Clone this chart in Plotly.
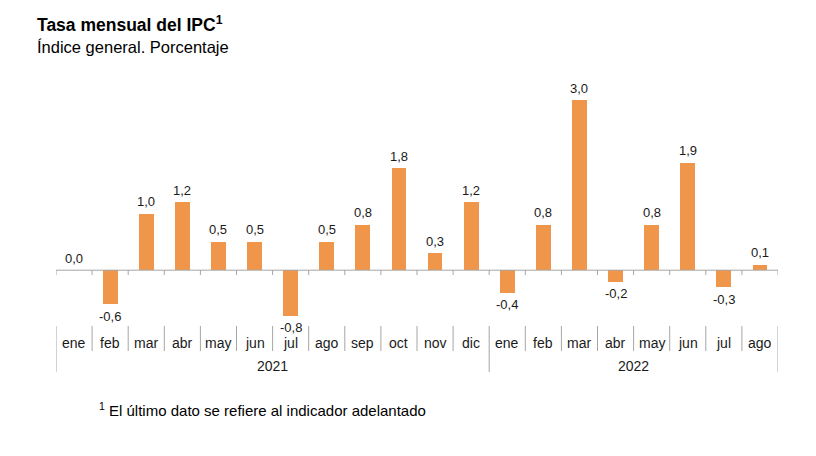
import plotly.graph_objects as go

months = ["ene", "feb", "mar", "abr", "may", "jun", "jul", "ago", "sep", "oct", "nov", "dic",
          "ene", "feb", "mar", "abr", "may", "jun", "jul", "ago"]
years = ["2021", "2022"]
year_counts = [12, 8]
values = [0.0, -0.6, 1.0, 1.2, 0.5, 0.5, -0.8, 0.5, 0.8, 1.8, 0.3, 1.2,
          -0.4, 0.8, 3.0, -0.2, 0.8, 1.9, -0.3, 0.1]

BAR = "#F0964B"
GRID = "#A6A6A6"
TXT = "#1a1a1a"
FONT = "Liberation Sans, Arial, sans-serif"

OFF = 8  # page offset of the figure inside the browser window
W, H = 816, 456
L, R = 56 - OFF, W - (778 - OFF)
T = 89 - OFF
B_PX = 324 - OFF
B = H - B_PX
PH = B_PX - T
PW = W - L - R


def py(p):  # window pixel y -> paper
    return (B_PX - (p - OFF)) / PH


def pxx(p):  # window pixel x -> paper
    return ((p - OFF) - L) / PW


n = len(values)
x = list(range(n))
labels = [f"{v:.1f}".replace(".", ",") for v in values]

fig = go.Figure()
fig.add_trace(go.Bar(
    x=x, y=values, width=0.41, marker=dict(color=BAR, line=dict(width=0)),
    hoverinfo="skip",
))

annotations = []
for i, v in enumerate(values):
    annotations.append(dict(
        x=i, y=v, xref="x", yref="y", text=labels[i], showarrow=False,
        yshift=12 if v >= 0 else -12, xanchor="center", yanchor="middle",
        font=dict(family=FONT, size=13, color=TXT), borderpad=0,
    ))

shapes = []
shapes.append(dict(type="line", xref="x", yref="y", x0=-0.5, x1=n - 0.5, y0=0, y1=0,
                   line=dict(color=GRID, width=1)))
for b in range(n + 1):
    shapes.append(dict(type="line", xref="x", yref="paper", x0=b - 0.5, x1=b - 0.5,
                       y0=py(270), y1=py(275), line=dict(color=GRID, width=1)))

year_bounds = [0]
for c in year_counts:
    year_bounds.append(year_bounds[-1] + c)
for b in range(n + 1):
    long = b in year_bounds
    shapes.append(dict(type="line", xref="x", yref="paper", x0=b - 0.5, x1=b - 0.5,
                       y0=py(326), y1=py(372 if long else 351),
                       line=dict(color=GRID, width=1)))

for i, m in enumerate(months):
    annotations.append(dict(x=i, y=py(343), xref="x", yref="paper", text=m,
                            showarrow=False, xanchor="center", yanchor="middle",
                            font=dict(family=FONT, size=14, color=TXT), borderpad=0))
for k, yv in enumerate(years):
    center = (year_bounds[k] + year_bounds[k + 1] - 1) / 2
    annotations.append(dict(x=center, y=py(366), xref="x", yref="paper", text=yv,
                            showarrow=False, xanchor="center", yanchor="middle",
                            font=dict(family=FONT, size=14, color=TXT)))

annotations.append(dict(x=pxx(35), y=py(24), xref="paper", yref="paper",
                        text="<b>Tasa mensual del IPC<sup>1</sup></b>", showarrow=False,
                        xanchor="left", yanchor="middle",
                        font=dict(family=FONT, size=17.5, color="#000000")))
annotations.append(dict(x=pxx(35), y=py(47), xref="paper", yref="paper",
                        text="Índice general. Porcentaje", showarrow=False,
                        xanchor="left", yanchor="middle",
                        font=dict(family=FONT, size=16.5, color="#000000")))
annotations.append(dict(x=pxx(97), y=py(410), xref="paper", yref="paper",
                        text="<sup>1</sup> El último dato se refiere al indicador adelantado",
                        showarrow=False, xanchor="left", yanchor="middle",
                        font=dict(family=FONT, size=15, color="#000000")))

fig.update_layout(
    width=W, height=H,
    margin=dict(l=L, r=R, t=T, b=B),
    paper_bgcolor="white", plot_bgcolor="white",
    showlegend=False,
    xaxis=dict(range=[-0.5, n - 0.5], showticklabels=False, showgrid=False,
               zeroline=False, showline=False, ticks=""),
    yaxis=dict(range=[-0.95, 3.2], showticklabels=False, showgrid=False,
               zeroline=False, showline=False, ticks=""),
    shapes=shapes,
    annotations=annotations,
    bargap=0,
)

fig.write_html("out.html")
